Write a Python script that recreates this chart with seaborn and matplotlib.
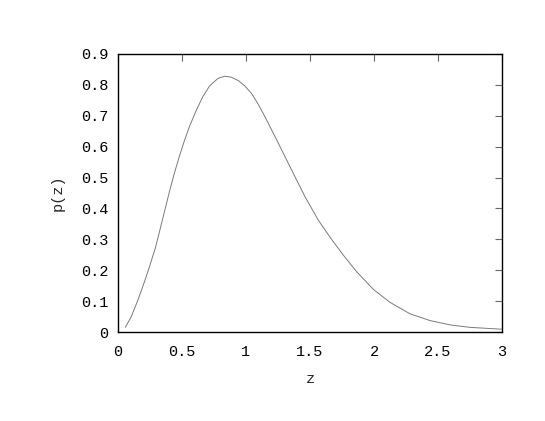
import matplotlib
matplotlib.use("Agg")
import matplotlib.pyplot as plt
import seaborn as sns
import pandas as pd

# points
z_vals = [0.057, 0.104, 0.156, 0.203, 0.247, 0.292, 0.326, 0.365, 0.404, 0.443,
          0.482, 0.521, 0.560, 0.612, 0.664, 0.716, 0.781, 0.833, 0.885, 0.940,
          0.990, 1.044, 1.096, 1.148, 1.253, 1.357, 1.461, 1.565, 1.665, 1.760,
          1.865, 1.995, 2.125, 2.281, 2.438, 2.594, 2.750, 2.958, 3.000]
p_vals = [0.015, 0.050, 0.104, 0.158, 0.213, 0.272, 0.328, 0.393, 0.458, 0.518,
          0.572, 0.622, 0.667, 0.718, 0.763, 0.797, 0.821, 0.828, 0.825, 0.814,
          0.797, 0.772, 0.737, 0.697, 0.611, 0.524, 0.438, 0.362, 0.302, 0.249,
          0.195, 0.138, 0.096, 0.059, 0.037, 0.023, 0.015, 0.010, 0.009]

x_ticks = [0, 0.5, 1, 1.5, 2, 2.5, 3]
x_labels = ["0", "0.5", "1", "1.5", "2", "2.5", "3"]
y_ticks = [0, 0.1, 0.2, 0.3, 0.4, 0.5, 0.6, 0.7, 0.8, 0.9]
y_labels = ["0", "0.1", "0.2", "0.3", "0.4", "0.5", "0.6", "0.7", "0.8", "0.9"]

df = pd.DataFrame({"z": z_vals, "p": p_vals})

sns.set_theme(style="white")
plt.rcParams["font.family"] = ["Liberation Mono", "DejaVu Sans Mono"]

fig = plt.figure(figsize=(5.45, 4.21), dpi=100)
ax = fig.add_axes([118 / 545, 1 - 332 / 421, (502 - 118) / 545, (332 - 54) / 421])

sns.lineplot(data=df, x="z", y="p", ax=ax, color="#7a7a7a", linewidth=0.7)

ax.set_xlim(0, 3)
ax.set_ylim(0, 0.9)
ax.set_xticks(x_ticks)
ax.set_xticklabels(x_labels)
ax.set_yticks(y_ticks)
ax.set_yticklabels(y_labels)
ax.tick_params(direction="in", length=5, width=0.8, color="#666666",
               top=True, right=True, labelsize=11, labelcolor="black")
ax.tick_params(axis="x", pad=9)
ax.tick_params(axis="y", pad=7)
for s in ax.spines.values():
    s.set_color("black")
    s.set_linewidth(1.0)

ax.set_xlabel("z", fontsize=11, labelpad=10)
ax.set_ylabel("p(z)", fontsize=11, labelpad=12)

fig.savefig("out.png", dpi=100)
